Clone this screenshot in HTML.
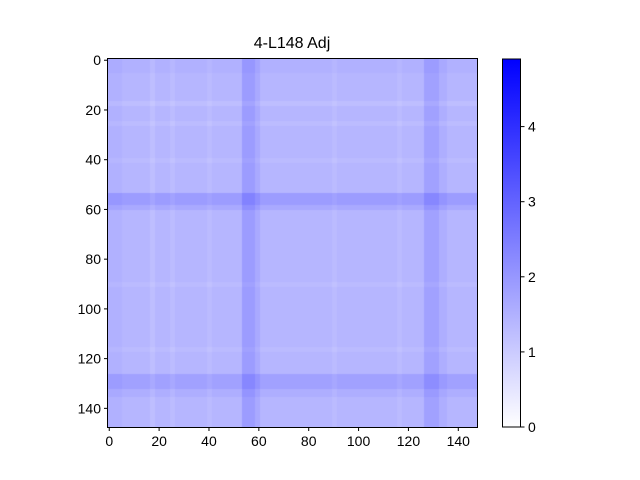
<!DOCTYPE html>
<html><head><meta charset="utf-8"><style>
html,body{margin:0;padding:0;background:#fff;}
#wrap{position:relative;width:640px;height:480px;font-family:"Liberation Sans",sans-serif;}
</style></head><body>
<div id="wrap">
<canvas id="hm" width="369" height="368" style="position:absolute;left:108px;top:59px;"></canvas>
<svg id="ax" width="640" height="480" style="position:absolute;left:0;top:0;font-family:'Liberation Sans',sans-serif">
<defs><linearGradient id="cbg" x1="0" y1="1" x2="0" y2="0"><stop offset="0" stop-color="#ffffff"/><stop offset="1" stop-color="#0000ff"/></linearGradient></defs>
<text x="292" y="48" text-anchor="middle" font-size="16">4-L148 Adj</text>
<rect x="502.5" y="59" width="18" height="368" fill="url(#cbg)" stroke="#000" stroke-width="1"/>
</svg>
</div>
<script>
// Data: matrix size, value range, band structure (start, end, level offset)
const N = 148;
const vmax = 4.9;
const baseLevel = 1.4;
const bandStarts = [0, 17, 25, 40, 54, 59, 90, 116, 127, 133];
const bandEnds   = [5, 18, 26, 41, 58, 60, 91, 117, 132, 135];
const bandDelta  = [0.1, -0.15, -0.12, -0.1, 0.5, 0.25, -0.1, -0.1, 0.4, 0.15];
const xTicks = [0, 20, 40, 60, 80, 100, 120, 140];
const yTicks = [0, 20, 40, 60, 80, 100, 120, 140];
const cbTicks = [0, 1, 2, 3, 4];

const L = 108, T = 59, W = 369, H = 368;
function xs(v){ return L + (v + 0.5) * W / N; }
function ys(v){ return T + (v + 0.5) * H / N; }
function cbY(v){ return 427 - v / vmax * 368; }
function color(v){
  const t = Math.max(0, Math.min(1, v / vmax));
  const c = Math.round(255 * (1 - t));
  return 'rgb(' + c + ',' + c + ',255)';
}
const offset = new Array(N).fill(0);
for (let b = 0; b < bandStarts.length; b++)
  for (let i = bandStarts[b]; i <= bandEnds[b]; i++) offset[i] += bandDelta[b];

const ctx = document.getElementById('hm').getContext('2d');
for (let r = 0; r < N; r++) {
  for (let c = 0; c < N; c++) {
    const v = baseLevel + offset[r] + offset[c];
    ctx.fillStyle = color(v);
    const x0 = c * W / N, x1 = (c + 1) * W / N;
    const y0 = r * H / N, y1 = (r + 1) * H / N;
    ctx.fillRect(Math.floor(x0), Math.floor(y0), Math.ceil(x1) - Math.floor(x0), Math.ceil(y1) - Math.floor(y0));
  }
}

const svg = document.getElementById('ax');
const NS = 'http://www.w3.org/2000/svg';
function mk(tag, attrs){ const e = document.createElementNS(NS, tag); for (const k in attrs) e.setAttribute(k, attrs[k]); svg.appendChild(e); return e; }
const frame = mk('rect', {x: L - 0.5, y: T - 0.5, width: W + 1, height: H + 1, fill: 'none', stroke: '#000', 'stroke-width': 1});


xTicks.forEach(v => {
  const x = xs(v);
  const tk = mk('line', {x1: x, y1: T + H + 0.5, x2: x, y2: T + H + 4, stroke: '#000'});
  
  
  const lb = mk('text', {x: x, y: T + H + 19, 'text-anchor': 'middle', 'font-size': 14});
  lb.textContent = v;
  
  
});
yTicks.forEach(v => {
  const y = ys(v);
  const tk = mk('line', {x1: L - 4, y1: y, x2: L - 0.5, y2: y, stroke: '#000'});
  
  
  const lb = mk('text', {x: L - 7, y: y + 5, 'text-anchor': 'end', 'font-size': 14});
  lb.textContent = v;
  
  
});
cbTicks.forEach(v => {
  const y = cbY(v);
  const tk = mk('line', {x1: 520.5, y1: y, x2: 524.5, y2: y, stroke: '#000'});
  
  
  const lb = mk('text', {x: 528, y: y + 5, 'font-size': 14});
  lb.textContent = v;
  
  
});
</script>
</body></html>
